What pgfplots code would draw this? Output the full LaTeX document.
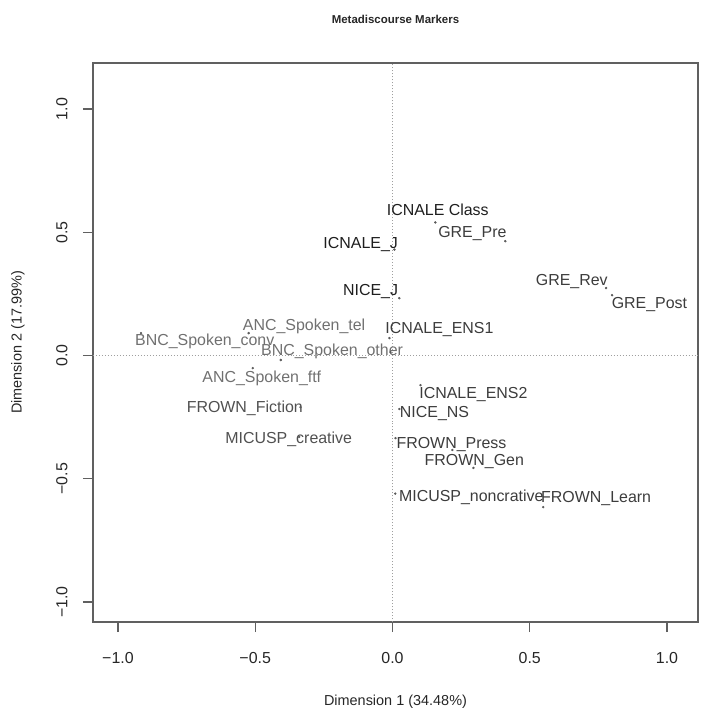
\documentclass[border=0pt]{standalone}
\usepackage{fontspec}
\setmainfont{Liberation Sans}
\usepackage{pgfplots}
\pgfplotsset{compat=1.18}
\definecolor{axgray}{HTML}{606060}
\definecolor{cblack}{HTML}{1E1E1E}
\definecolor{cdark}{HTML}{3C3C3C}
\definecolor{cmid}{HTML}{505050}
\definecolor{clight}{HTML}{707070}
\tikzset{lab/.style={font=\fontsize{16}{16}\selectfont, inner sep=0pt, anchor=base, yshift=-5.7bp}}
\begin{document}
\begin{tikzpicture}
\path[use as bounding box] (-93bp,-86bp) rectangle (617bp,622bp);
\begin{axis}[
  scale only axis, width=605bp, height=559bp,
  xmin=-1.091, xmax=1.113, ymin=-1.081, ymax=1.187,
  axis line style={axgray, line width=1.3bp},
  xtick={-1,-0.5,0,0.5,1}, ytick={-1,-0.5,0,0.5,1},
  xticklabels={−1.0,−0.5,0.0,0.5,1.0},
  yticklabels={−1.0,−0.5,0.0,0.5,1.0},
  /pgf/number format/assume math mode=true,
  tick align=outside, major tick length=10bp,
  tick style={axgray, line width=1.3bp},
  xtick pos=bottom, ytick pos=left,
  ticklabel style={font=\fontsize{16}{16}\selectfont, text=black!85},
  xticklabel style={anchor=center, yshift=-26bp},
  yticklabel style={rotate=90, anchor=center, yshift=21bp},
  title={Metadiscourse Markers},
  title style={font=\bfseries\fontsize{11.5}{12}\selectfont, text=black!85, at={(axis description cs:0.5,1)}, anchor=center, yshift=38bp},
  xlabel={Dimension 1 (34.48\%)},
  ylabel={Dimension 2 (17.99\%)},
  label style={font=\fontsize{14.5}{15}\selectfont, text=black!85},
  xlabel style={at={(axis description cs:0.5,0)}, anchor=center, yshift=-80bp},
  ylabel style={at={(axis description cs:-0.124,0.5)}, anchor=center, rotate=0},
  clip=false,
]
% reference lines
\addplot[dotted, gray!75, line width=1bp] coordinates {(0,-1.081) (0,1.187)};
\addplot[dotted, gray!75, line width=1bp] coordinates {(-1.091,0) (1.113,0)};
% points
\addplot[only marks, mark=*, mark size=1bp, color=black!65] coordinates {
 (0.156,0.540) (0.411,0.464) (0.007,0.430) (0.025,0.233)
 (0.778,0.274) (0.800,0.245) (-0.011,0.071)
 (-0.916,0.091) (-0.524,0.091) (-0.407,-0.018) (-0.007,0.014)
 (-0.509,-0.051) (-0.335,-0.209) (-0.340,-0.330)
 (0.102,-0.120) (0.025,-0.217) (0.011,-0.335)
 (0.295,-0.456) (0.218,-0.383) (0.549,-0.615) (0.010,-0.560)
};
% labels
\node[lab, text=cblack] at (axis cs:0.165,0.590) {ICNALE Class};
\node[lab, text=cdark] at (axis cs:0.291,0.501) {GRE\_Pre};
\node[lab, text=cblack] at (axis cs:-0.116,0.456) {ICNALE\_J};
\node[lab, text=cblack] at (axis cs:-0.080,0.266) {NICE\_J};
\node[lab, text=cdark] at (axis cs:0.653,0.306) {GRE\_Rev};
\node[lab, text=cdark] at (axis cs:0.936,0.213) {GRE\_Post};
\node[lab, text=cdark] at (axis cs:0.171,0.112) {ICNALE\_ENS1};
\node[lab, text=clight] at (axis cs:-0.322,0.124) {ANC\_Spoken\_tel};
\node[lab, text=clight] at (axis cs:-0.684,0.063) {BNC\_Spoken\_conv};
\node[lab, text=clight] at (axis cs:-0.220,0.022) {BNC\_Spoken\_other};
\node[lab, text=clight] at (axis cs:-0.476,-0.087) {ANC\_Spoken\_ftf};
\node[lab, text=cmid] at (axis cs:-0.538,-0.209) {FROWN\_Fiction};
\node[lab, text=cmid] at (axis cs:-0.378,-0.335) {MICUSP\_creative};
\node[lab, text=cdark] at (axis cs:0.295,-0.152) {ICNALE\_ENS2};
\node[lab, text=cdark] at (axis cs:0.153,-0.229) {NICE\_NS};
\node[lab, text=cdark] at (axis cs:0.215,-0.355) {FROWN\_Press};
\node[lab, text=cdark] at (axis cs:0.298,-0.424) {FROWN\_Gen};
\node[lab, text=cdark] at (axis cs:0.287,-0.570) {MICUSP\_noncrative};
\node[lab, text=cdark] at (axis cs:0.742,-0.574) {FROWN\_Learn};
\end{axis}
\end{tikzpicture}
\end{document}
